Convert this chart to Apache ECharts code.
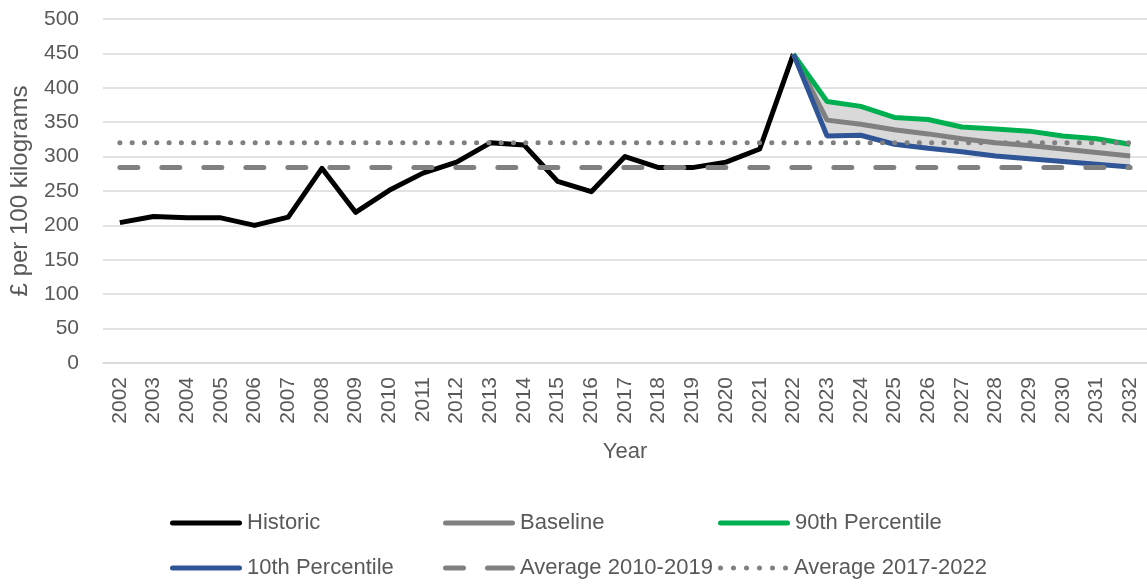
<!DOCTYPE html>
<html>
<head>
<meta charset="utf-8">
<script src="https://cdn.jsdelivr.net/npm/echarts@6/dist/echarts.min.js"></script>
<style>
html,body{margin:0;padding:0;background:#fff;}
#chart{width:1147px;height:584px;}
</style>
</head>
<body>
<div id="chart"></div>
<script>
const years = ['2002','2003','2004','2005','2006','2007','2008','2009','2010','2011','2012','2013','2014','2015','2016','2017','2018','2019','2020','2021','2022','2023','2024','2025','2026','2027','2028','2029','2030','2031','2032'];
const historic = [204,213,211,211,200,212,283,219,251,276,292,320,317,264,249,300,284,284,292,311,449,null,null,null,null,null,null,null,null,null,null];
const baseline = [null,null,null,null,null,null,null,null,null,null,null,null,null,null,null,null,null,null,null,null,449,353,347,339,333,326,320,316,311,306,301];
const p90 = [null,null,null,null,null,null,null,null,null,null,null,null,null,null,null,null,null,null,null,null,449,380,373,357,354,343,340,337,330,326,318];
const p10 = [null,null,null,null,null,null,null,null,null,null,null,null,null,null,null,null,null,null,null,null,449,330,331,318,312,307,301,297,293,289,285];
const avg2010_2019 = 284;
const avg2017_2022 = 320;
const yTicks = [0,50,100,150,200,250,300,350,400,450,500];

const FONT = 'Liberation Sans';
const TXT = '#595959';
const bandBase = p10.map(v => v == null ? '-' : v);
const bandWidth = p90.map((v, i) => (v == null || p10[i] == null) ? '-' : v - p10[i]);
const avgA = years.map(() => avg2010_2019);
const avgB = years.map(() => avg2017_2022);
const nz = a => a.map(v => v == null ? '-' : v);

const ICON_SOLID = 'path://M2.5,0 H69.5 A2.5,2.5 0 0,1 69.5,5 H2.5 A2.5,2.5 0 0,1 2.5,0 Z';
const ICON_DASH = 'path://M2.5,0 H20.5 A2.5,2.5 0 0,1 20.5,5 H2.5 A2.5,2.5 0 0,1 2.5,0 Z M44.5,0 H69.5 A2.5,2.5 0 0,1 69.5,5 H44.5 A2.5,2.5 0 0,1 44.5,0 Z M0,2.5 M72,2.5';
const ICON_DOT = 'path://M0,2.5 A2.5,2.5 0 1,0 5,2.5 A2.5,2.5 0 1,0 0,2.5 Z M13,2.5 A2.5,2.5 0 1,0 18,2.5 A2.5,2.5 0 1,0 13,2.5 Z M26,2.5 A2.5,2.5 0 1,0 31,2.5 A2.5,2.5 0 1,0 26,2.5 Z M39,2.5 A2.5,2.5 0 1,0 44,2.5 A2.5,2.5 0 1,0 39,2.5 Z M52,2.5 A2.5,2.5 0 1,0 57,2.5 A2.5,2.5 0 1,0 52,2.5 Z M65,2.5 A2.5,2.5 0 1,0 70,2.5 A2.5,2.5 0 1,0 65,2.5 Z';

const chart = echarts.init(document.getElementById('chart'));
function lg(name, icon, left, top) {
  return {
    data: [{name: name, icon: icon}], left: left, top: top, padding: 0,
    itemWidth: 72, itemHeight: 5, itemGap: 0,
    textStyle: {fontFamily: FONT, fontSize: 22, color: TXT, padding: [0,0,0,0]},
    selectedMode: false
  };
}
chart.setOption({
  animation: false,
  backgroundColor: '#fff',
  textStyle: {fontFamily: FONT},
  grid: {left: 101, top: 19, width: 1048, height: 344, containLabel: false},
  legend: [
    lg('Historic', ICON_SOLID, 170, 512),
    lg('Baseline', ICON_SOLID, 443, 512),
    lg('90th Percentile', ICON_SOLID, 718, 512),
    lg('10th Percentile', ICON_SOLID, 170, 557),
    lg('Average 2010-2019', ICON_DASH, 443, 557),
    lg('Average 2017-2022', ICON_DOT, 718, 557)
  ],
  xAxis: {
    type: 'category', data: years, boundaryGap: true,
    axisLine: {show: true, lineStyle: {color: '#d9d9d9', width: 1.5}},
    axisTick: {show: false},
    axisLabel: {rotate: 90, fontFamily: FONT, fontSize: 21, color: TXT, margin: 14, interval: 0},
    name: 'Year', nameLocation: 'middle', nameGap: 78,
    nameTextStyle: {fontFamily: FONT, fontSize: 22, color: TXT}
  },
  yAxis: {
    type: 'value', min: yTicks[0], max: yTicks[yTicks.length-1], interval: 50,
    axisLine: {show: false}, axisTick: {show: false},
    splitLine: {lineStyle: {color: '#d9d9d9', width: 1.5}},
    axisLabel: {fontFamily: FONT, fontSize: 21, color: TXT, margin: 24},
    name: '£ per 100 kilograms', nameLocation: 'middle', nameGap: 71, nameRotate: 90,
    nameTextStyle: {fontFamily: FONT, fontSize: 24, color: TXT}
  },
  series: [
    {name: 'bandBase', type: 'line', stack: 'band', data: bandBase, symbol: 'none',
     lineStyle: {opacity: 0}, silent: true, z: 1},
    {name: 'band', type: 'line', stack: 'band', data: bandWidth, symbol: 'none',
     lineStyle: {opacity: 0}, areaStyle: {color: '#d9d9d9', opacity: 1}, silent: true, z: 1},
    {name: 'Historic', type: 'line', data: nz(historic), symbol: 'none', color: '#000000',
     lineStyle: {color: '#000000', width: 5, join: 'round'}, z: 2},
    {name: 'Baseline', type: 'line', data: nz(baseline), symbol: 'none', color: '#808080',
     lineStyle: {color: '#808080', width: 5}, z: 3},
    {name: '90th Percentile', type: 'line', data: nz(p90), symbol: 'none', color: '#00b050',
     lineStyle: {color: '#00b050', width: 5}, z: 3},
    {name: '10th Percentile', type: 'line', data: nz(p10), symbol: 'none', color: '#2f5597',
     lineStyle: {color: '#2f5597', width: 5}, z: 4},
    {name: 'Average 2010-2019', type: 'line', data: avgA, symbol: 'none', color: '#808080',
     lineStyle: {color: '#808080', width: 5, type: [18, 24], cap: 'round'}, z: 5},
    {name: 'Average 2017-2022', type: 'line', data: avgB, symbol: 'none', color: '#808080',
     lineStyle: {color: '#808080', width: 5, type: [0.1, 12.2], cap: 'round'}, z: 5}
  ]
});
</script>
</body>
</html>
